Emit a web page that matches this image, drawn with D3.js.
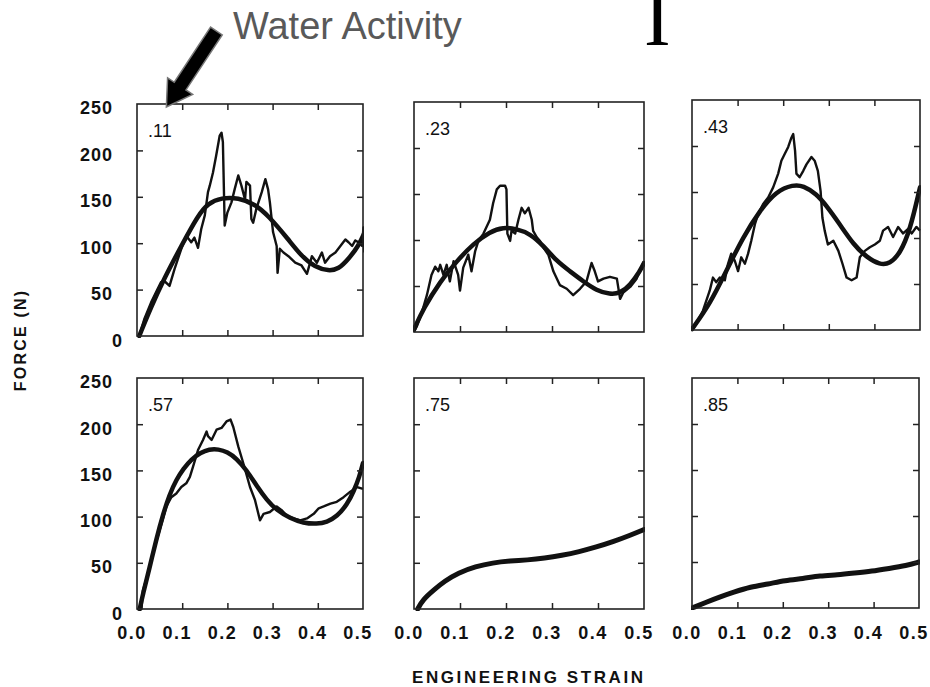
<!DOCTYPE html>
<html><head><meta charset="utf-8">
<script src="https://cdn.jsdelivr.net/npm/d3@7"></script>
<style>body{margin:0;background:#fff}svg{display:block}</style>
</head><body>
<script>
// ---------- data ----------
const waterActivity = [".11", ".23", ".43", ".57", ".75", ".85"];
const xTickValues = [0, 0.1, 0.2, 0.3, 0.4, 0.5];
const xTickLabels = ["0.0", "0.1", "0.2", "0.3", "0.4", "0.5"];
const yTickValues = [0, 50, 100, 150, 200, 250];
const yTickLabels = ["0", "50", "100", "150", "200", "250"];

// raw (noisy) force-strain traces [strain, force N]
const raw11 = [[0.005,0],[0.016,18],[0.031,36],[0.045,50],[0.053,58],[0.061,59],[0.072,54],[0.083,72],[0.098,94],[0.109,108],[0.12,101],[0.127,106],[0.135,95],[0.142,115],[0.15,130],[0.157,155],[0.161,162],[0.168,176],[0.175,194],[0.183,216],[0.187,219],[0.19,209],[0.194,119],[0.2,133],[0.209,144],[0.216,158],[0.224,173],[0.231,162],[0.239,147],[0.242,166],[0.25,162],[0.253,126],[0.257,122],[0.264,137],[0.276,155],[0.284,169],[0.29,158],[0.294,144],[0.301,112],[0.309,97],[0.311,68],[0.316,94],[0.324,90],[0.335,86],[0.35,79],[0.364,76],[0.376,67],[0.387,86],[0.398,79],[0.409,90],[0.416,79],[0.427,86],[0.439,90],[0.45,97],[0.461,104],[0.468,101],[0.476,97],[0.483,103],[0.49,101],[0.498,97],[0.501,117],[0.503,90]];
const raw23 = [[0,0],[0.006,6],[0.017,21],[0.028,40],[0.038,62],[0.046,71],[0.053,66],[0.057,73],[0.064,62],[0.071,73],[0.078,55],[0.086,77],[0.096,62],[0.1,45],[0.107,70],[0.118,84],[0.125,66],[0.133,88],[0.14,99],[0.151,107],[0.165,122],[0.172,140],[0.18,155],[0.187,159],[0.198,159],[0.201,155],[0.203,107],[0.209,99],[0.212,110],[0.22,107],[0.227,122],[0.234,135],[0.241,129],[0.249,135],[0.256,122],[0.259,110],[0.267,103],[0.274,99],[0.281,92],[0.292,84],[0.303,66],[0.317,51],[0.332,47],[0.346,40],[0.361,47],[0.375,55],[0.386,75],[0.393,66],[0.4,55],[0.412,58],[0.426,60],[0.441,58],[0.448,36],[0.455,43],[0.47,49],[0.484,58],[0.5,77]];
const raw43 = [[0,0],[0.01,7],[0.024,21],[0.039,43],[0.046,57],[0.053,52],[0.061,57],[0.072,54],[0.079,72],[0.086,83],[0.094,75],[0.101,64],[0.108,79],[0.116,72],[0.123,83],[0.13,97],[0.138,115],[0.145,126],[0.156,137],[0.167,144],[0.178,155],[0.189,170],[0.196,184],[0.203,191],[0.211,199],[0.218,209],[0.222,213],[0.226,195],[0.229,170],[0.236,166],[0.244,173],[0.251,180],[0.262,188],[0.269,184],[0.276,173],[0.282,151],[0.286,122],[0.291,108],[0.298,93],[0.31,97],[0.321,86],[0.33,72],[0.339,57],[0.35,54],[0.361,57],[0.368,79],[0.379,86],[0.39,90],[0.401,93],[0.412,97],[0.419,108],[0.43,112],[0.441,101],[0.452,112],[0.463,105],[0.474,110],[0.482,105],[0.492,112],[0.5,108]];
const raw57 = [[0,0],[0.01,0],[0.013,20],[0.024,38],[0.039,67],[0.05,85],[0.065,111],[0.076,121],[0.087,125],[0.098,132],[0.109,136],[0.117,143],[0.124,154],[0.135,172],[0.146,183],[0.154,192],[0.157,187],[0.165,183],[0.176,194],[0.187,196],[0.198,203],[0.207,205],[0.213,197],[0.224,176],[0.235,158],[0.25,132],[0.261,118],[0.272,96],[0.28,103],[0.294,105],[0.309,111],[0.32,107],[0.331,101],[0.346,98],[0.361,96],[0.376,98],[0.391,103],[0.402,109],[0.413,111],[0.428,114],[0.442,116],[0.457,121],[0.472,127],[0.487,132],[0.5,130]];

// fitted (smooth) curves [strain, force N]
const fit11 = [[0.005,0],[0.03,30],[0.06,62],[0.098,97],[0.135,130],[0.157,143],[0.187,149],[0.224,149],[0.261,142],[0.29,130],[0.335,104],[0.364,86],[0.394,74],[0.424,70],[0.446,72],[0.468,83],[0.49,97],[0.503,111]];
const fit23 = [[0,3],[0.02,25],[0.057,55],[0.093,77],[0.129,96],[0.165,109],[0.194,114],[0.223,112],[0.252,107],[0.281,94],[0.31,77],[0.339,66],[0.368,55],[0.397,45],[0.426,41],[0.448,42],[0.47,51],[0.491,66],[0.5,75]];
const fit43 = [[0,1],[0.039,28],[0.075,64],[0.112,101],[0.149,130],[0.185,151],[0.222,158],[0.244,157],[0.273,148],[0.295,135],[0.324,115],[0.354,93],[0.383,79],[0.412,71],[0.434,72],[0.456,83],[0.478,108],[0.5,155]];
const fit57 = [[0.006,0],[0.013,16],[0.028,45],[0.043,76],[0.058,103],[0.072,124],[0.087,140],[0.103,152],[0.12,162],[0.14,169],[0.16,173],[0.18,173],[0.2,170],[0.22,163],[0.243,150],[0.265,133],[0.287,118],[0.309,107],[0.339,98],[0.368,93],[0.398,92],[0.42,94],[0.442,100],[0.465,113],[0.48,128],[0.492,143],[0.5,158]];
const fit75 = [[0.008,0],[0.019,10],[0.044,21],[0.066,30],[0.096,39],[0.134,46],[0.171,50],[0.209,52],[0.246,53],[0.284,55],[0.321,58],[0.359,62],[0.396,67],[0.434,73],[0.471,80],[0.5,86]];
const fit85 = [[0,0],[0.03,6],[0.061,12],[0.091,17],[0.129,23],[0.167,26],[0.205,30],[0.244,32],[0.282,35],[0.32,36],[0.358,38],[0.396,40],[0.434,43],[0.472,46],[0.5,50]];

const rawCurves = [raw11, raw23, raw43, raw57, null, null];
const fitCurves = [fit11, fit23, fit43, fit57, fit75, fit85];

// ---------- layout ----------
const W = 930, H = 687;
const boxes = [
  {x0:137, x1:363, y0:104, y1:336},
  {x0:414, x1:644, y0:102, y1:332},
  {x0:692, x1:920, y0:100, y1:330},
  {x0:137, x1:363, y0:378, y1:609},
  {x0:414, x1:644, y0:378, y1:609},
  {x0:692, x1:919, y0:378, y1:608}
];
const ink = "#111";
const labelFont = "'Liberation Sans', Arial, sans-serif";

const svg = d3.select("body").append("svg").attr("width", W).attr("height", H);

boxes.forEach((b, i) => {
  const x = d3.scaleLinear().domain([0, 0.5]).range([b.x0, b.x1]);
  const y = d3.scaleLinear().domain([0, 250]).range([b.y1, b.y0]);
  const g = svg.append("g");
  const clipId = "clip" + i;
  svg.append("clipPath").attr("id", clipId).append("rect")
    .attr("x", b.x0 - 1).attr("y", b.y0).attr("width", b.x1 - b.x0 + 2).attr("height", b.y1 - b.y0 + 2);

  const line = d3.line().x(d => x(d[0])).y(d => y(d[1]));
  const curves = g.append("g").attr("clip-path", `url(#${clipId})`);
  if (rawCurves[i]) {
    curves.append("path").datum(rawCurves[i]).attr("d", line)
      .attr("fill", "none").attr("stroke", ink).attr("stroke-width", 2.4)
      .attr("stroke-linejoin", "round");
  }
  const smooth = d3.line().x(d => x(d[0])).y(d => y(d[1])).curve(d3.curveBasis);
  curves.append("path").datum(fitCurves[i]).attr("d", smooth)
    .attr("fill", "none").attr("stroke", ink).attr("stroke-width", i >= 4 ? 5 : 4.5)
    .attr("stroke-linecap", "round");

  // frame
  g.append("rect").attr("x", b.x0).attr("y", b.y0)
    .attr("width", b.x1 - b.x0).attr("height", b.y1 - b.y0)
    .attr("fill", "none").attr("stroke", "#222").attr("stroke-width", 1.6);

  // inward ticks on all sides
  const innerX = xTickValues.slice(1, -1), innerY = yTickValues.slice(1, -1);
  const tickStyle = sel => {
    sel.select(".domain").remove();
    sel.selectAll("line").attr("stroke", "#222").attr("stroke-width", 1.5);
  };
  g.append("g").attr("transform", `translate(0,${b.y1})`)
    .call(d3.axisBottom(x).tickValues(innerX).tickSize(-6).tickFormat("")).call(tickStyle);
  g.append("g").attr("transform", `translate(0,${b.y0})`)
    .call(d3.axisTop(x).tickValues(innerX).tickSize(-6).tickFormat("")).call(tickStyle);
  g.append("g").attr("transform", `translate(${b.x0},0)`)
    .call(d3.axisLeft(y).tickValues(innerY).tickSize(-6).tickFormat("")).call(tickStyle);
  g.append("g").attr("transform", `translate(${b.x1},0)`)
    .call(d3.axisRight(y).tickValues(innerY).tickSize(-6).tickFormat("")).call(tickStyle);

  // y tick labels on left column
  if (i % 3 === 0) {
    g.selectAll("text.ylab").data(yTickValues).join("text")
      .attr("class", "ylab")
      .attr("x", v => v === 0 ? b.x0 - 14 : b.x0 - 24)
      .attr("y", v => y(v) + (v === 0 ? 5 : 4))
      .attr("dy", "0.35em").attr("text-anchor", "end")
      .attr("font-family", labelFont).attr("font-weight", "bold")
      .attr("font-size", 18).attr("letter-spacing", 1).attr("fill", ink)
      .text((v, k) => yTickLabels[k]);
  }
  // x tick labels on bottom row
  if (i >= 3) {
    g.selectAll("text.xlab").data(xTickValues).join("text")
      .attr("class", "xlab")
      .attr("x", v => x(v) - 5).attr("y", 639)
      .attr("text-anchor", "middle")
      .attr("font-family", labelFont).attr("font-weight", "bold")
      .attr("font-size", 18).attr("letter-spacing", 1.5).attr("fill", ink)
      .text((v, k) => xTickLabels[k]);
  }
  // water activity tag
  g.append("text").attr("x", b.x0 + 11).attr("y", b.y0 + 33)
    .attr("font-family", labelFont).attr("font-size", 18).attr("fill", ink)
    .text(waterActivity[i]);

  if (i === 0) {
    // arrow pointing at the first panel's water activity corner
    const tip = [x(0.065), y(250) + 3];
    const tail = [tip[0] + 50, tip[1] - 76];
    const len = Math.hypot(tail[0] - tip[0], tail[1] - tip[1]);
    const u = [(tip[0] - tail[0]) / len, (tip[1] - tail[1]) / len];
    const n = [-u[1], u[0]];
    const hw = 7, headLen = 25, headW = 15;
    const base = [tip[0] - u[0] * headLen, tip[1] - u[1] * headLen];
    const P = (p, s) => [p[0] + n[0] * s, p[1] + n[1] * s];
    const pts = [P(tail, hw), P(base, hw), P(base, headW), tip,
                 P(base, -headW), P(base, -hw), P(tail, -hw)];
    svg.append("path").attr("d", "M" + pts.map(p => p.join(",")).join("L") + "Z")
      .attr("fill", "#000").attr("stroke", "#777").attr("stroke-width", 1.5)
      .attr("stroke-linejoin", "miter");
  }
});

// axis titles
svg.append("text").attr("transform", "translate(26,340) rotate(-90)")
  .attr("text-anchor", "middle").attr("font-family", labelFont)
  .attr("font-weight", "bold").attr("font-size", 16).attr("letter-spacing", 2.2)
  .attr("fill", ink).text("FORCE (N)");
svg.append("text").attr("x", 412).attr("y", 683)
  .attr("textLength", 231).attr("lengthAdjust", "spacing")
  .attr("font-family", labelFont).attr("font-weight", "bold").attr("font-size", 17)
  .attr("fill", ink).text("ENGINEERING STRAIN");

// header annotation
svg.append("text").attr("x", 233).attr("y", 39)
  .attr("font-family", labelFont).attr("font-size", 38).attr("fill", "#595959")
  .text("Water Activity");
// clipped glyph from the slide title above
svg.append("text").attr("x", 644).attr("y", 45)
  .attr("font-family", "'Liberation Serif', 'Times New Roman', serif")
  .attr("font-size", 80).attr("fill", "#000").text("I");
</script>
</body></html>
